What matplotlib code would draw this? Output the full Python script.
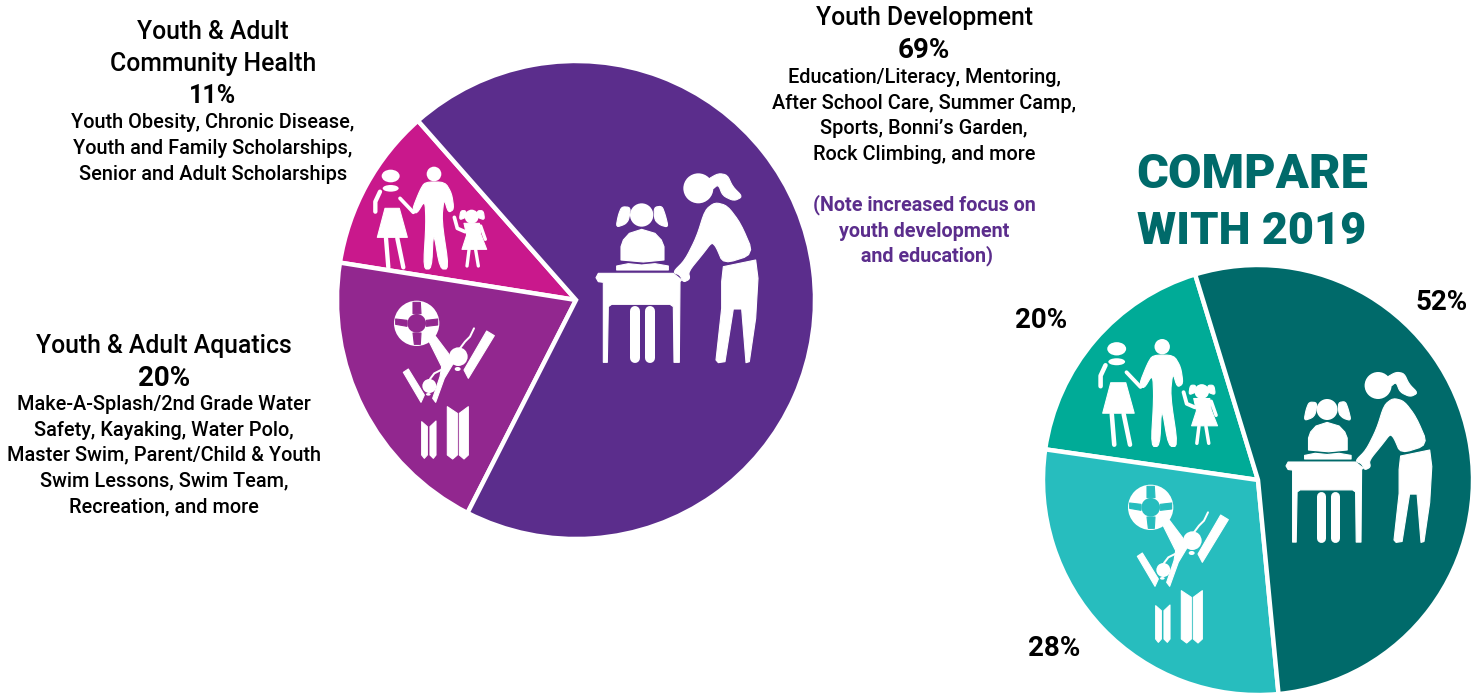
import matplotlib
matplotlib.use("Agg")
import matplotlib.pyplot as plt
from matplotlib.patches import Circle, Ellipse, Polygon

plt.rcParams['font.family'] = ['Roboto', 'DejaVu Sans']

W, H = 1484, 694

# 2023 shares, from the labels
main_names = ['Community Health', 'Aquatics', 'Youth Development']
main_values = [11, 20, 69]
main_colors = ['#C9188C', '#92278F', '#5B2D8C']

# 2019 wedges as drawn (slightly off the printed labels)
old_names = ['Community Health', 'Aquatics', 'Youth Development']
old_values = [18, 28.8, 53.2]
old_labels = ['20%', '28%', '52%']
old_colors = ['#00AB97', '#27BDBE', '#006A6A']

dev_lines = ['Education/Literacy, Mentoring,', 'After School Care, Summer Camp,',
             'Sports, Bonni\u2019s Garden,', 'Rock Climbing, and more']
note_lines = ['(Note increased focus on', 'youth development', ' and education)']
health_lines = ['Youth Obesity, Chronic Disease,', 'Youth and Family Scholarships,',
                'Senior and Adult Scholarships']
aqua_lines = ['Make-A-Splash/2nd Grade Water', 'Safety, Kayaking, Water Polo,',
              'Master Swim, Parent/Child & Youth', 'Swim Lessons, Swim Team,',
              'Recreation, and more']

fig = plt.figure(figsize=(W / 100, H / 100), dpi=100)
ax = fig.add_axes([0, 0, 1, 1])


def pie(values, colors, cx, cy, r, start):
    ax.pie(values, colors=colors, center=(cx, H - cy), radius=r, startangle=start,
           counterclock=True, wedgeprops={'edgecolor': 'white', 'linewidth': 3.2})


pie(main_values, main_colors, 576, 300, 239, 131.4)
pie(old_values, old_colors, 1258, 480, 215, 107)
ax.set_xlim(0, W)
ax.set_ylim(0, H)
ax.set_aspect('equal')
ax.axis('off')


def smooth(pts, n=2):
    # corner cutting, rounds off the hand traced outlines
    for _ in range(n):
        out = []
        for i, (x, y) in enumerate(pts):
            x2, y2 = pts[(i + 1) % len(pts)]
            out.append((0.8 * x + 0.2 * x2, 0.8 * y + 0.2 * y2))
            out.append((0.2 * x + 0.8 * x2, 0.2 * y + 0.8 * y2))
        pts = out
    return pts


class Icon:
    # shapes are given in zoomed crop coords, top-left origin
    def __init__(self, x0, y0, s, bg):
        self.x0, self.y0, self.s, self.bg = x0, y0, s, bg

    def pt(self, x, y):
        return self.x0 + x * self.s, H - (self.y0 + y * self.s)

    def poly(self, pts, color='white', round_it=True):
        if round_it:
            pts = smooth(pts)
        ax.add_patch(Polygon([self.pt(*p) for p in pts], closed=True, fc=color, ec=color,
                             lw=0.8, joinstyle='round', zorder=5))

    def circle(self, x, y, r, color='white'):
        ax.add_patch(Circle(self.pt(x, y), r * self.s, fc=color, ec='none', zorder=5))

    def ellipse(self, x, y, w, h, color='white'):
        ax.add_patch(Ellipse(self.pt(x, y), w * self.s, h * self.s, fc=color, ec='none', zorder=5))

    def bar(self, pts, w, color='white', z=5):
        xs, ys = zip(*[self.pt(*p) for p in pts])
        ax.plot(xs, ys, color=color, lw=w * self.s * 0.72, solid_capstyle='round',
                solid_joinstyle='round', zorder=z)


def teacher(ic):
    ic.circle(325, 70, 45)
    ic.poly([(350, 45), (385, 25), (412, 30), (428, 65), (458, 95), (432, 108), (398, 92), (385, 58), (365, 75)])
    ic.poly([(375, 112), (412, 122), (452, 175), (492, 268), (400, 297), (378, 245), (365, 232), (340, 265),
             (295, 320), (300, 342), (280, 352), (270, 330), (248, 322), (285, 285), (320, 215), (345, 135)])
    ic.poly([(400, 305), (497, 285), (504, 340), (497, 460), (478, 590), (468, 593), (455, 432), (430, 432),
             (405, 590), (385, 593), (378, 585), (395, 430), (395, 350)], round_it=False)
    ic.poly([(25, 325), (250, 325), (275, 345), (270, 350), (268, 592), (252, 592), (250, 425), (240, 418),
             (65, 418), (55, 425), (52, 592), (40, 592), (40, 352), (25, 350), (18, 338)], round_it=False)
    ic.bar([(135, 438), (135, 578)], 30)
    ic.bar([(180, 438), (180, 578)], 30)
    ic.circle(155, 150, 35)
    ic.poly([(122, 127), (95, 125), (85, 150), (78, 187), (105, 178), (116, 165)])
    ic.poly([(192, 127), (216, 123), (226, 150), (235, 187), (210, 180), (194, 165)])
    ic.poly([(93, 285), (93, 245), (100, 225), (118, 205), (155, 193), (195, 205), (214, 225), (222, 245),
             (222, 285), (160, 291)], round_it=False)
    ic.poly([(80, 303), (115, 296), (155, 300), (195, 296), (235, 303), (235, 315), (80, 315)], round_it=False)


def family(ic):
    ic.ellipse(62, 48, 54, 38)
    ic.ellipse(62, 85, 48, 20)
    ic.bar([(30, 95), (16, 125), (16, 155)], 13)
    ic.bar([(90, 115), (130, 157)], 11)
    ic.poly([(45, 145), (88, 145), (112, 232), (22, 232)], round_it=False)
    ic.bar([(48, 235), (55, 322)], 13)
    ic.bar([(82, 235), (100, 322)], 13)
    ic.circle(192, 42, 22)
    ic.poly([(165, 66), (225, 66), (245, 100), (252, 148), (235, 158), (222, 115), (215, 180), (237, 327),
             (210, 327), (190, 210), (185, 327), (160, 327), (168, 190), (165, 120), (140, 162), (126, 150), (150, 90)])
    ic.circle(305, 170, 21)
    ic.poly([(288, 152), (272, 152), (268, 180), (288, 172)])
    ic.poly([(322, 152), (340, 152), (344, 180), (322, 172)])
    ic.poly([(282, 190), (328, 190), (332, 222), (350, 268), (276, 268), (290, 225)], round_it=False)
    ic.bar([(253, 172), (262, 205), (285, 215)], 11)
    ic.bar([(332, 198), (346, 238)], 10)
    ic.bar([(297, 270), (291, 318)], 10)
    ic.bar([(317, 270), (325, 318)], 10)


def aquatics(ic):
    ic.circle(95, 85, 68)
    ic.circle(95, 85, 28, ic.bg)
    ic.poly([(84, 22), (106, 22), (108, 56), (84, 56)], ic.bg, False)
    ic.poly([(84, 114), (108, 114), (106, 148), (88, 148)], ic.bg, False)
    ic.poly([(32, 72), (66, 76), (66, 94), (32, 88)], ic.bg, False)
    ic.poly([(124, 76), (158, 72), (158, 90), (124, 94)], ic.bg, False)
    ic.poly([(130, 135), (150, 122), (190, 175), (205, 205), (178, 250), (152, 322), (143, 310), (165, 245),
             (170, 215)], round_it=False)
    ic.poly([(55, 232), (70, 222), (118, 300), (108, 322)], round_it=False)
    ic.poly([(305, 108), (328, 122), (250, 250), (237, 225)], round_it=False)
    ic.circle(220, 185, 28)
    ic.ellipse(218, 222, 18, 12)
    ic.bar([(225, 160), (240, 140), (255, 125), (267, 100)], 6)
    ic.circle(133, 273, 21)
    ic.ellipse(130, 298, 14, 8)
    ic.bar([(135, 252), (148, 235), (168, 225)], 6)
    ic.poly([(110, 380), (127, 395), (127, 480), (118, 490), (110, 480)], round_it=False)
    ic.poly([(153, 378), (135, 395), (135, 480), (145, 490), (153, 480)], round_it=False)
    ic.poly([(187, 335), (217, 355), (217, 480), (203, 492), (187, 480)], round_it=False)
    ic.poly([(250, 335), (223, 355), (223, 480), (237, 492), (250, 480)], round_it=False)


teacher(Icon(590, 165, 1 / 3, main_colors[2]))
family(Icon(370, 160, 1 / 3, main_colors[0]))
aquatics(Icon(385, 295, 1 / 3, main_colors[1]))
teacher(Icon(1280.6, 364.5, 0.30, old_colors[2]))
family(Icon(1095, 332, 0.35, old_colors[0]))
aquatics(Icon(1119, 479, 1 / 3, old_colors[1]))


def label(x, y, s, size=14.3, weight='medium', color='black'):
    ax.text(x, H - y, s, ha='center', va='center', fontsize=size, fontweight=weight, color=color)


label(213, 32, 'Youth & Adult', 17.8)
label(213, 64, 'Community Health', 17.8)
label(213, 96, '11%', 18, 'bold')
for y, s in zip([122, 148, 174], health_lines):
    label(213, y, s)

label(924, 18, 'Youth Development', 17.8)
label(924, 50, '69%', 20, 'bold')
for y, s in zip([77, 103, 128, 154], dev_lines):
    label(924, y, s)
for y, s in zip([205, 231, 256], note_lines):
    label(924, y, s, 14.2, 'bold', main_colors[2])

label(164, 346, 'Youth & Adult Aquatics', 17.8)
label(164, 378, '20%', 20, 'bold')
for y, s in zip([404, 430, 455, 481, 507], aqua_lines):
    label(164, y, s)

label(1252, 175, 'COMPARE', 35, 'black', old_colors[2])
label(1252, 232, 'WITH 2019', 32.5, 'black', old_colors[2])

for (x, y), s in zip([(1041, 320), (1054, 649), (1442, 302)], old_labels):
    label(x, y, s, 20, 'bold')

fig.savefig('out.png', dpi=100)
